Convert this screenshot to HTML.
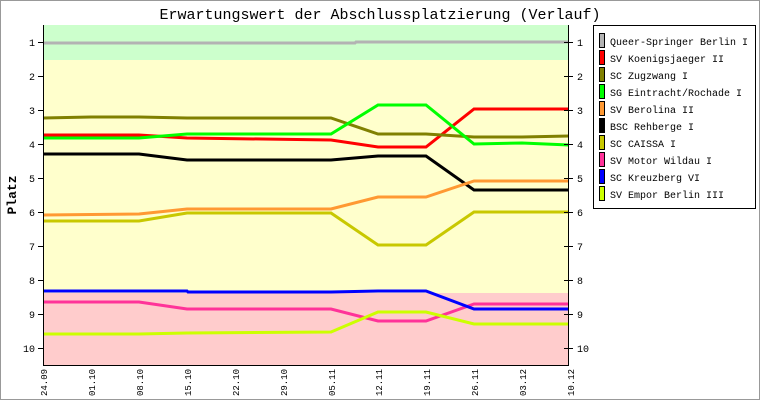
<!DOCTYPE html><html><head><style>body{margin:0}svg text{font-family:"Liberation Mono",monospace}</style></head><body>
<svg width="760" height="400" xmlns="http://www.w3.org/2000/svg">
<rect x="0.5" y="0.5" width="759" height="399" fill="#fff" stroke="#999"/>
<text x="380" y="19" font-size="15" text-anchor="middle">Erwartungswert der Abschlussplatzierung (Verlauf)</text>
<rect x="43" y="25" width="526" height="35" fill="#ccffcc"/>
<rect x="43" y="60" width="526" height="233" fill="#ffffcc"/>
<rect x="43" y="293" width="526" height="72" fill="#ffcccc"/>
<g fill="none" stroke-width="3">
<polyline stroke="#b3b3b3" points="43,43 355,43 356,42 569,42"/>
<polyline stroke="#ff0000" points="43,135 139,135 187,138 331,140 378,147 426,147 474,109 569,109"/>
<polyline stroke="#808000" points="43,118 91,117 139,117 187,118 331,118 378,134 426,134 474,137 522,137 569,136"/>
<polyline stroke="#00ff00" points="43,138 139,138 187,134 331,134 378,105 426,105 474,144 522,143 569,145"/>
<polyline stroke="#000000" points="43,154 139,154 187,160 331,160 378,156 426,156 474,190 569,190"/>
<polyline stroke="#ff9933" points="43,215 139,214 187,209 331,209 378,197 426,197 474,181 569,181"/>
<polyline stroke="#c8c800" points="43,221 139,221 187,213 331,213 378,245 426,245 474,212 569,212"/>
<polyline stroke="#ff3399" points="43,302 139,302 187,309 331,309 378,321 426,321 474,304 569,304"/>
<polyline stroke="#0000ff" points="43,291 187,291 188,292 331,292 378,291 426,291 474,309 569,309"/>
<polyline stroke="#ccff00" points="43,334 139,334 187,333 331,332 378,312 426,312 474,324 569,324"/>
</g>
<g stroke="#000" stroke-width="1">
<line x1="43.5" y1="25" x2="43.5" y2="366"/><line x1="568.5" y1="25" x2="568.5" y2="366"/><line x1="43" y1="365.5" x2="569" y2="365.5"/>
<path d="M38,42.5h5M38,76.5h5M38,110.5h5M38,144.5h5M38,178.5h5M38,212.5h5M38,246.5h5M38,280.5h5M38,314.5h5M38,348.5h5M564,42.5h9M564,76.5h9M564,110.5h9M564,144.5h9M564,178.5h9M564,212.5h9M564,246.5h9M564,280.5h9M564,314.5h9M564,348.5h9"/>
</g>
<g font-size="10" text-anchor="end">
<text x="35" y="46">1</text><text x="35" y="80">2</text><text x="35" y="114">3</text><text x="35" y="148">4</text><text x="35" y="182">5</text><text x="35" y="216">6</text><text x="35" y="250">7</text><text x="35" y="284">8</text><text x="35" y="318">9</text><text x="35" y="352">10</text>
</g>
<g font-size="10">
<text x="577" y="46">1</text><text x="577" y="80">2</text><text x="577" y="114">3</text><text x="577" y="148">4</text><text x="577" y="182">5</text><text x="577" y="216">6</text><text x="577" y="250">7</text><text x="577" y="284">8</text><text x="577" y="318">9</text><text x="577" y="352">10</text>
</g>
<text transform="translate(16,195) rotate(-90)" font-size="13" font-weight="bold" text-anchor="middle">Platz</text>
<g font-size="9" text-anchor="end">
<text transform="translate(47,396) rotate(-90)" text-anchor="start">24.09</text>
<text transform="translate(95,396) rotate(-90)" text-anchor="start">01.10</text>
<text transform="translate(143,396) rotate(-90)" text-anchor="start">08.10</text>
<text transform="translate(191,396) rotate(-90)" text-anchor="start">15.10</text>
<text transform="translate(239,396) rotate(-90)" text-anchor="start">22.10</text>
<text transform="translate(287,396) rotate(-90)" text-anchor="start">29.10</text>
<text transform="translate(335,396) rotate(-90)" text-anchor="start">05.11</text>
<text transform="translate(382,396) rotate(-90)" text-anchor="start">12.11</text>
<text transform="translate(430,396) rotate(-90)" text-anchor="start">19.11</text>
<text transform="translate(478,396) rotate(-90)" text-anchor="start">26.11</text>
<text transform="translate(526,396) rotate(-90)" text-anchor="start">03.12</text>
<text transform="translate(574,396) rotate(-90)" text-anchor="start">10.12</text>
</g>
<rect x="593.5" y="25.5" width="162" height="183" fill="#fff" stroke="#000"/>
<g stroke="#000" stroke-width="1">
<rect x="599.5" y="33.5" width="5" height="14" fill="#b3b3b3"/>
<rect x="599.5" y="50.5" width="5" height="14" fill="#ff0000"/>
<rect x="599.5" y="67.5" width="5" height="14" fill="#808000"/>
<rect x="599.5" y="84.5" width="5" height="14" fill="#00ff00"/>
<rect x="599.5" y="101.5" width="5" height="14" fill="#ff9933"/>
<rect x="599.5" y="118.5" width="5" height="14" fill="#000000"/>
<rect x="599.5" y="135.5" width="5" height="14" fill="#c8c800"/>
<rect x="599.5" y="152.5" width="5" height="14" fill="#ff3399"/>
<rect x="599.5" y="169.5" width="5" height="14" fill="#0000ff"/>
<rect x="599.5" y="186.5" width="5" height="14" fill="#ccff00"/>
</g>
<g font-size="10">
<text x="610" y="45">Queer-Springer Berlin I</text>
<text x="610" y="62">SV Koenigsjaeger II</text>
<text x="610" y="79">SC Zugzwang I</text>
<text x="610" y="96">SG Eintracht/Rochade I</text>
<text x="610" y="113">SV Berolina II</text>
<text x="610" y="130">BSC Rehberge I</text>
<text x="610" y="147">SC CAISSA I</text>
<text x="610" y="164">SV Motor Wildau I</text>
<text x="610" y="181">SC Kreuzberg VI</text>
<text x="610" y="198">SV Empor Berlin III</text>
</g>
</svg></body></html>
